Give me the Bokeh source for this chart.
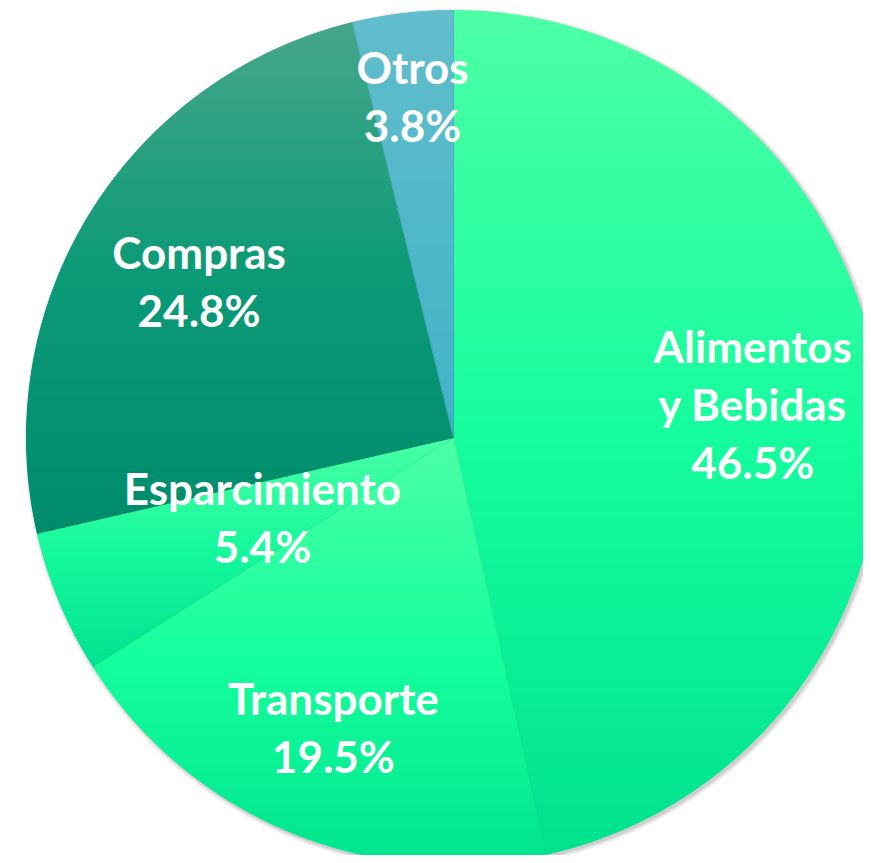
import math
import numpy as np
from bokeh.plotting import figure
from bokeh.models import Range1d
from bokeh.embed import file_html
from bokeh.resources import INLINE
from bokeh.core.properties import value

# ---- data -------------------------------------------------------------
categories = ["Alimentos\ny Bebidas", "Transporte", "Esparcimiento", "Compras", "Otros"]
shares = [46.5, 19.5, 5.4, 24.8, 3.8]
pct_labels = ["46.5%", "19.5%", "5.4%", "24.8%", "3.8%"]

# ---- style --------------------------------------------------------------
top_colors = ["#4dffa6", "#4dffa6", "#48ffa5", "#46a68a", "#62bdcc"]
mid_colors = ["#16fd9e", "#16ff9e", "#16f89c", "#0c9a77", "#50b8c9"]
bottom_colors = ["#00e28e", "#00e48e", "#00e290", "#008c6c", "#40b3c6"]
label_radius = [0.705, 0.735, 0.485, 0.70, 0.805]

CX, CY, R = 453.0, -437.0, 427.0
FONT = "Lato"
FONT_SIZE = 44
LINE_H = 58

W, H = 863, 855
p = figure(width=W, height=H, output_backend="svg", toolbar_location=None,
           x_range=Range1d(0, W), y_range=Range1d(-H, 0),
           min_border=0, outline_line_color=None, background_fill_color="white")
p.axis.visible = False
p.grid.visible = False


def hex2rgb(h):
    h = h.lstrip("#")
    return np.array([int(h[i:i + 2], 16) for i in (0, 2, 4)], dtype=float)


def rgb2hex(c):
    c = np.clip(np.round(c), 0, 255).astype(int)
    return "#%02x%02x%02x" % tuple(c)


def grad(t, c0, c1, c2):
    a, b, c = hex2rgb(c0), hex2rgb(c1), hex2rgb(c2)
    if t < 0.5:
        return rgb2hex(a + (b - a) * (t / 0.5))
    return rgb2hex(b + (c - b) * ((t - 0.5) / 0.5))


def clip_half(poly, y0, keep_above):
    out = []
    n = len(poly)
    for i in range(n):
        x1, y1 = poly[i]
        x2, y2 = poly[(i + 1) % n]
        in1 = (y1 <= y0) if keep_above else (y1 >= y0)
        in2 = (y2 <= y0) if keep_above else (y2 >= y0)
        if in1:
            out.append((x1, y1))
        if in1 != in2:
            t = (y0 - y1) / (y2 - y1)
            out.append((x1 + t * (x2 - x1), y0))
    return out


# shadow
for k, a in [(5, 0.025), (4, 0.03), (3, 0.04), (2, 0.05), (1, 0.06)]:
    p.circle(x=[CX + 2], y=[CY - 2], radius=R + k, fill_color="black",
             fill_alpha=a, line_color=None)

total = float(sum(shares))
cum = np.concatenate([[0.0], np.cumsum(shares)])
start_deg = 90 - cum[:-1] / total * 360.0   # clockwise from top
end_deg = 90 - cum[1:] / total * 360.0

# base wedges (drawn from data)
p.wedge(x=[CX] * len(shares), y=[CY] * len(shares), radius=R,
        start_angle=list(np.radians(end_deg)), end_angle=list(np.radians(start_deg)),
        fill_color=mid_colors, line_color=None)

# gradient fill for every slice
STRIP = 3.0
for i in range(len(shares)):
    a0, a1 = start_deg[i], end_deg[i]
    n = max(8, int(abs(a0 - a1) / 0.4))
    angs = np.radians(np.linspace(a0, a1, n))
    poly = [(CX, CY)] + [(CX + R * math.cos(t), CY + R * math.sin(t)) for t in angs]
    ys = [q[1] for q in poly]
    ytop, ybot = max(ys), min(ys)
    xs_l, ys_l, cols = [], [], []
    y = ytop
    while y > ybot:
        y2 = max(y - STRIP, ybot)
        piece = clip_half(poly, y, True)
        piece = clip_half(piece, y2, False) if piece else []
        if len(piece) >= 3:
            t = ((ytop - (y + y2) / 2) / (ytop - ybot))
            xs_l.append([q[0] for q in piece])
            ys_l.append([q[1] for q in piece])
            cols.append(grad(t, top_colors[i], mid_colors[i], bottom_colors[i]))
        y = y2
    p.patches(xs=xs_l, ys=ys_l, fill_color=cols, line_color=cols, line_width=1.0)

# faint slice separators
sep = np.radians(start_deg)
p.segment(x0=[CX] * len(sep), y0=[CY] * len(sep),
          x1=list(CX + R * np.cos(sep)), y1=list(CY + R * np.sin(sep)),
          line_color="black", line_alpha=0.08, line_width=1)

# labels
tx, ty, tt = [], [], []
for i in range(len(shares)):
    mid = math.radians((start_deg[i] + end_deg[i]) / 2)
    lx = CX + label_radius[i] * R * math.cos(mid)
    ly = CY + label_radius[i] * R * math.sin(mid)
    lines = categories[i].split("\n") + [pct_labels[i]]
    nl = len(lines)
    for j, s in enumerate(lines):
        tx.append(lx)
        ty.append(ly + ((nl - 1) / 2 - j) * LINE_H)
        tt.append(s)
p.text(x=tx, y=ty, text=tt, text_font=value(FONT), text_font_style="bold",
       text_font_size=f"{FONT_SIZE}px", text_color="white",
       text_align="center", text_baseline="middle")

open("out.html", "w").write(file_html(p, INLINE))
